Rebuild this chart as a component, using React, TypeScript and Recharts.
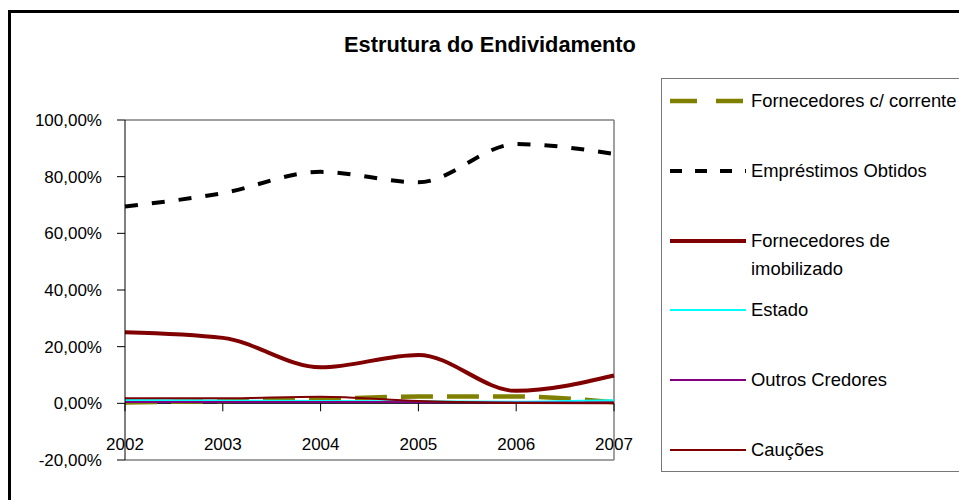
import React from "react"
import {
  LineChart,
  Line,
  XAxis,
  YAxis,
  ReferenceLine,
} from "recharts"

const years = [2002, 2003, 2004, 2005, 2006, 2007]
const fornecedoresCorrente = [0.3, 0.8, 1.5, 2.4, 2.4, 0.4]
const emprestimosObtidos = [69.5, 74.2, 81.7, 78.0, 91.5, 88.0]
const fornecedoresImobilizado = [25.1, 23.1, 12.7, 17.1, 4.4, 9.8]
const estado = [1.2, 1.0, 0.8, 0.7, 0.6, 1.1]
const outrosCredores = [0.5, 0.5, 0.5, 0.4, 0.3, 0.3]
const caucoes = [1.8, 1.8, 2.3, 0.8, 0.1, 0.0]
const yTicks = [-20, 0, 20, 40, 60, 80, 100]

const FONT = '"Liberation Sans", Arial, sans-serif'
const W = 951
const H = 492
const MARGIN = { top: 112, right: 345, bottom: 10, left: 0 }
const X_AXIS_H = 30
const PLOT_H = H - MARGIN.top - MARGIN.bottom - X_AXIS_H
const Y_MIN = -20
const Y_MAX = 100

const series = [
  { key: "fc", name: "Fornecedores c/ corrente", values: fornecedoresCorrente, color: "#808000", width: 4.5, dash: "32 14", legendDash: "27 19" },
  { key: "eo", name: "Empréstimos Obtidos", values: emprestimosObtidos, color: "#000000", width: 4, dash: "13 14", legendDash: "12 13" },
  { key: "fi", name: "Fornecedores de\nimobilizado", values: fornecedoresImobilizado, color: "#800000", width: 4, dash: undefined, legendDash: undefined },
  { key: "es", name: "Estado", values: estado, color: "#00ffff", width: 2, dash: undefined, legendDash: undefined },
  { key: "oc", name: "Outros Credores", values: outrosCredores, color: "#800080", width: 2, dash: undefined, legendDash: undefined },
  { key: "ca", name: "Cauções", values: caucoes, color: "#800000", width: 2, dash: undefined, legendDash: undefined },
]

const data = years.map((year, i) => {
  const row: Record<string, number> = { year }
  series.forEach((s) => {
    row[s.key] = s.values[i]
  })
  return row
})

const fmtPct = (v: number) => v.toFixed(2).replace(".", ",") + "%"

function XTick(props: any) {
  const { x, y, payload } = props
  const zeroY = y - (PLOT_H * (0 - Y_MIN)) / (Y_MAX - Y_MIN)
  return (
    <g>
      <line x1={x} x2={x} y1={zeroY} y2={zeroY + 8} stroke="#000" strokeWidth={1} />
      <text x={x} y={y - 10} textAnchor="middle" fontSize={17} fontFamily={FONT} fill="#000">
        {payload.value}
      </text>
    </g>
  )
}

function LegendBox() {
  return (
    <div
      style={{
        position: "absolute",
        left: 653,
        top: 70,
        width: 400,
        height: 392,
        border: "1.5px solid #777",
        fontFamily: FONT,
        fontSize: 18.4,
        color: "#000",
      }}
    >
      {series.map((s, i) => {
        const cy = 22 + i * 69.8
        return (
          <div key={s.key} style={{ position: "absolute", left: 0, top: cy - 14, height: 28 }}>
            <svg width={84} height={28} style={{ position: "absolute", left: 8, top: 0 }}>
              <line
                x1={0}
                x2={76}
                y1={14}
                y2={14}
                stroke={s.color}
                strokeWidth={s.width}
                strokeDasharray={s.legendDash}
              />
            </svg>
            <div
              style={{
                position: "absolute",
                left: 89,
                top: 0,
                lineHeight: "28px",
                whiteSpace: "pre",
              }}
            >
              {s.name}
            </div>
          </div>
        )
      })}
    </div>
  )
}

export default function App() {
  return (
    <div
      style={{
        position: "fixed",
        left: 8,
        top: 8,
        right: 0,
        bottom: 0,
        overflow: "hidden",
        background: "#fff",
      }}
    >
      <div
        style={{
          position: "absolute",
          left: 0,
          top: 2,
          width: 2000,
          height: 2000,
          borderLeft: "3px solid #000",
          borderTop: "3px solid #000",
        }}
      />
      <div
        style={{
          position: "absolute",
          left: 282,
          top: 26,
          width: 400,
          textAlign: "center",
          fontFamily: FONT,
          fontWeight: "bold",
          fontSize: 21.8,
          lineHeight: "22px",
          color: "#000",
        }}
      >
        Estrutura do Endividamento
      </div>
      <div style={{ position: "absolute", left: 0, top: 0 }}>
        <LineChart width={W} height={H} data={data} margin={MARGIN}>
          <XAxis
            dataKey="year"
            type="number"
            domain={[2002, 2007]}
            ticks={years}
            height={X_AXIS_H}
            axisLine={false}
            tickLine={false}
            tickSize={0}
            tickMargin={0}
            interval={0}
            tick={<XTick />}
          />
          <YAxis
            type="number"
            domain={[Y_MIN, Y_MAX]}
            ticks={yTicks}
            width={117}
            tickSize={8}
            tickMargin={15}
            interval={0}
            tickFormatter={fmtPct}
            axisLine={{ stroke: "#000" }}
            tickLine={{ stroke: "#000" }}
            tick={{ fontSize: 17, fill: "#000", fontFamily: FONT }}
          />
          <ReferenceLine y={100} stroke="#808080" strokeWidth={1.5} />
          <ReferenceLine y={-20} stroke="#808080" strokeWidth={1.5} />
          <ReferenceLine x={2007} stroke="#808080" strokeWidth={1.5} />
          <ReferenceLine y={0} stroke="#000" strokeWidth={1} />
          {series.map((s) => (
            <Line
              key={s.key}
              dataKey={s.key}
              name={s.name}
              type="monotone"
              stroke={s.color}
              strokeWidth={s.width}
              strokeDasharray={s.dash}
              dot={false}
              activeDot={false}
              isAnimationActive={false}
            />
          ))}
        </LineChart>
      </div>
      <LegendBox />
    </div>
  )
}
